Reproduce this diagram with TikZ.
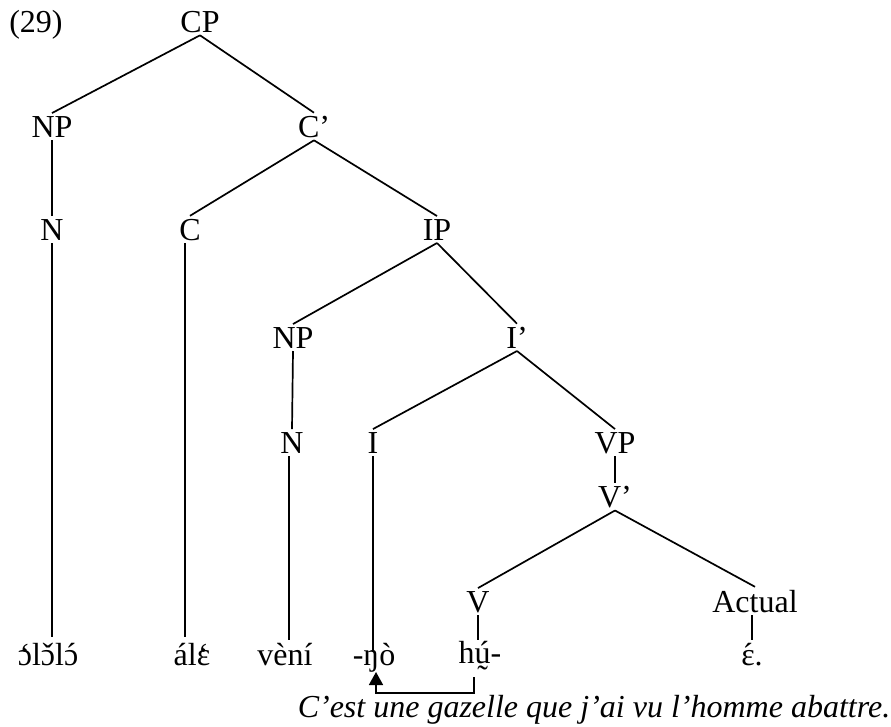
\documentclass[tikz,border=0pt]{standalone}
\usepackage{fontspec}
\setmainfont{Liberation Serif}
\usetikzlibrary{arrows.meta}
\newcommand\grv[1]{\accent"0060 #1}
\newcommand\acu[1]{\accent"00B4 #1}
\newcommand\cvn[1]{\accent"02C7 #1}
\newcommand\tbl[1]{\ooalign{#1\cr\hidewidth\raisebox{-0.78em}{˜}\hidewidth\cr}}
\begin{document}
\begin{tikzpicture}[x=1pt,y=-1pt,
  lab/.style={anchor=base,inner sep=3pt,outer sep=0pt,font=\fontsize{32}{38}\selectfont},
  edge/.style={draw=black,line width=1.7pt}]
\useasboundingbox (0,0) rectangle (891,726);
% labels
\node[lab] (num) at (36,32) {(29)};
\node[lab] (CP) at (200,32) {CP};
\node[lab] (NPa) at (52,137) {NP};
\node[lab] (Cbar) at (314,137) {C’};
\node[lab] (Na) at (52,240) {N};
\node[lab] (C) at (190,240) {C};
\node[lab] (IP) at (437,240) {IP};
\node[lab] (NPb) at (293,348) {NP};
\node[lab] (Ibar) at (517,348) {I’};
\node[lab] (Nb) at (292,453) {N};
\node[lab] (I) at (373,453) {I};
\node[lab] (VP) at (615,453) {VP};
\node[lab] (Vbar) at (615,507) {V’};
\node[lab] (V) at (478,612) {V};
\node[lab] (Act) at (755,612) {Actual};
% words
\node[lab] (w1) at (48,665) {\grv{ɔ}l\cvn{ɔ}l\acu{ɔ}};
\node[lab] (w2) at (192,665) {ál\grv{ɛ}};
\node[lab] (w3) at (285,665) {vèní};
\node[lab] (w4) at (374,665) {-ŋò};
\node[lab] (w5) at (480,663) {h\tbl{ú}-};
\node[lab] (w6) at (752,665) {\acu{ɛ}.};
\node[lab,font=\fontsize{32}{38}\selectfont\itshape] (gl) at (594,717) {C’est une gazelle que j’ai vu l’homme abattre.};
% branches
\draw[edge] (CP.south) -- (NPa.north);
\draw[edge] (CP.south) -- (Cbar.north);
\draw[edge] (NPa.south) -- (Na.north);
\draw[edge] (Cbar.south) -- (C.north);
\draw[edge] (Cbar.south) -- (IP.north);
\draw[edge] (IP.south) -- (NPb.north);
\draw[edge] (IP.south) -- (Ibar.north);
\draw[edge] (NPb.south) -- (Nb.north);
\draw[edge] (Ibar.south) -- (I.north);
\draw[edge] (Ibar.south) -- (VP.north);
\draw[edge] (VP.south) -- (Vbar.north);
\draw[edge] (Vbar.south) -- (V.north);
\draw[edge] (Vbar.south) -- (Act.north);
% terminal lines
\draw[edge] (Na.south) -- (Na.south |- 0,637);
\draw[edge] ([xshift=-5pt]C.south) -- ([xshift=-5pt]C.south |- 0,637);
\draw[edge] ([xshift=-3pt]Nb.south) -- ([xshift=-3pt]Nb.south |- 0,640);
\draw[edge] (I.south) -- (I.south |- 0,652);
\draw[edge] (V.south) -- (V.south |- 0,640);
\draw[edge] ([xshift=-3pt]Act.south) -- ([xshift=-3pt]Act.south |- 0,640);
% movement arrow
\coordinate (b1) at (474,693);
\coordinate (b2) at (376,693);
\draw[edge,-{Triangle[width=14pt,length=13pt]}] (474,677) -- (b1) -- (b2) -- (376,672);
\end{tikzpicture}
\end{document}
